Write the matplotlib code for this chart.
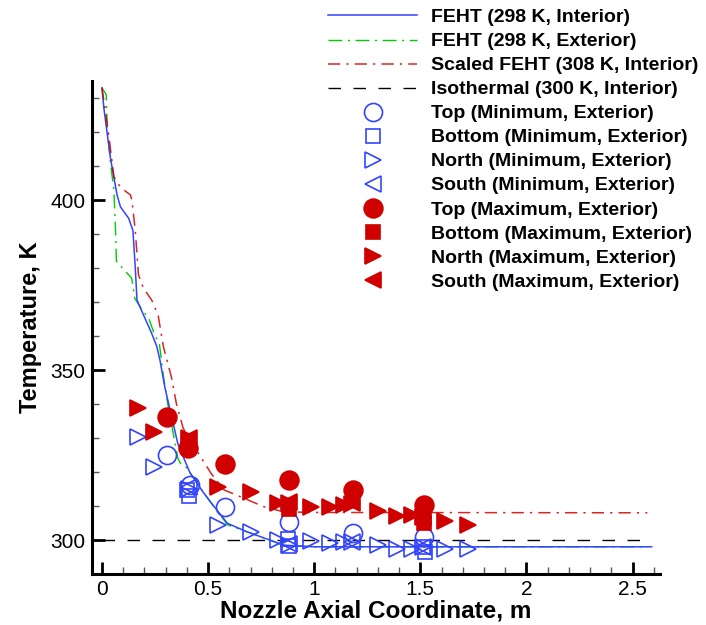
import numpy as np
import matplotlib
matplotlib.use('Agg')
import matplotlib.pyplot as plt
from matplotlib.ticker import MultipleLocator, FixedLocator

plt.rcParams['font.family'] = ['Liberation Sans', 'DejaVu Sans']

# ---- curves ----
feht_int_x = [0, 0.009, 0.04, 0.071, 0.087, 0.126, 0.146, 0.157, 0.165, 0.19, 0.234,
              0.258, 0.273, 0.296, 0.32, 0.358, 0.413, 0.475, 0.529, 0.591, 0.684,
              0.79, 0.855, 1.0, 2.59]
feht_int_y = [433, 427, 412.3, 401.5, 398, 394.6, 391, 380, 370.6, 367, 360.8,
              357, 353, 345, 338.5, 328.2, 320, 314.2, 309.8, 304.9, 302.4,
              300, 298.5, 298, 298]

feht_ext_x = [0, 0.02, 0.025, 0.04, 0.056, 0.064, 0.068, 0.14, 0.155, 0.19, 0.22,
              0.25, 0.27, 0.29, 0.31, 0.358, 0.37, 0.39, 0.45, 0.53, 0.58, 0.59,
              0.684, 0.79, 0.86, 1.0, 2.57]
feht_ext_y = [433, 431, 421, 411, 403, 391, 382, 377, 371, 367.6, 365.3,
              360, 358, 348, 340, 324, 322.5, 322, 316.5, 309.5, 305.5, 304.5,
              302.4, 300, 298.3, 298, 298]

scaled_x = [0, 0.03, 0.056, 0.071, 0.102, 0.134, 0.141, 0.157, 0.172, 0.196, 0.234,
            0.265, 0.289, 0.327, 0.351, 0.382, 0.42, 0.46, 0.514, 0.576, 0.669,
            0.762, 0.855, 1.0, 2.57]
scaled_y = [433, 420, 407, 405, 403, 401.5, 400, 391, 378, 374, 370.6,
            366, 357, 348, 340, 333, 328.5, 325, 319.6, 314.7, 312.3,
            309.8, 308.3, 308.1, 308]

iso_x = [0, 2.57]
iso_y = [300, 300]

# ---- measured points ----
top_min_x = [0.305, 0.415, 0.58, 0.879, 1.185, 1.516]
top_min_y = [325, 316.2, 309.8, 305.4, 302, 301]
bot_min_x = [0.40, 0.41, 0.875, 0.88, 1.515, 1.52]
bot_min_y = [314.7, 312.8, 300.3, 298.2, 297.8, 296.5]
north_min_x = [0.17, 0.245, 0.41, 0.545, 0.70, 0.828, 0.88, 0.985, 1.075, 1.14,
               1.18, 1.30, 1.39, 1.46, 1.515, 1.615, 1.725]
north_min_y = [330.4, 321.6, 315, 304.4, 302.4, 300, 298.5, 299.7, 299, 299.5,
               299.3, 298.5, 297.5, 297.5, 298, 297.4, 297.4]
south_min_x = [0.41, 0.88, 1.18, 1.515]
south_min_y = [315.5, 298.8, 299.5, 298]

top_max_x = [0.305, 0.407, 0.58, 0.879, 1.185, 1.516]
top_max_y = [336.3, 327, 322.3, 317.6, 314.7, 310.3]
bot_max_x = [0.88, 1.516]
bot_max_y = [309, 305]
north_max_x = [0.17, 0.245, 0.41, 0.545, 0.70, 0.828, 0.88, 0.985, 1.075, 1.14,
               1.18, 1.30, 1.39, 1.46, 1.515, 1.615, 1.725]
north_max_y = [338.7, 331.9, 330, 315.7, 314.2, 310.8, 311, 309.6, 309.8, 310.3,
               310.5, 308.5, 307.2, 307.4, 306.9, 305.6, 304.4]
south_max_x = [0.41, 0.88, 1.18, 1.515]
south_max_y = [330, 311.2, 310.8, 306.9]

blue = '#3344ff'
red = '#d00000'
green = '#00cc00'

fig = plt.figure(figsize=(7.06, 6.25), dpi=100)
ax = fig.add_axes([0.1303, 0.0816, 0.8047, 0.7888])

l1, = ax.plot(feht_ext_x, feht_ext_y, color=green, lw=1.0, dashes=(10, 4, 1.5, 4))
l0, = ax.plot(feht_int_x, feht_int_y, color=blue, lw=1.1)
l2, = ax.plot(scaled_x, scaled_y, color=red, lw=1.1, dashes=(8, 4, 1.5, 4), alpha=0.85)
l3, = ax.plot(iso_x, iso_y, color='k', lw=1.0, dashes=(9, 9))

mk = dict(ls='none', markeredgewidth=1.2)
m0, = ax.plot(top_min_x, top_min_y, marker='o', ms=13, mfc='none', mec=blue, **mk)
m1, = ax.plot(bot_min_x, bot_min_y, marker='s', ms=10, mfc='none', mec=blue, **mk)
m2, = ax.plot(north_min_x, north_min_y, marker='>', ms=11, mfc='none', mec=blue, **mk)
m3, = ax.plot(south_min_x, south_min_y, marker='<', ms=11, mfc='none', mec=blue, **mk)
m4, = ax.plot(top_max_x, top_max_y, marker='o', ms=13.5, color=red, **mk)
m5, = ax.plot(bot_max_x, bot_max_y, marker='s', ms=10, color=red, **mk)
m6, = ax.plot(north_max_x, north_max_y, marker='>', ms=11, color=red, **mk)
m7, = ax.plot(south_max_x, south_max_y, marker='<', ms=11, color=red, **mk)

ax.set_xlim(-0.047, 2.63)
ax.set_ylim(290, 435)
ax.spines['top'].set_visible(False)
ax.spines['right'].set_visible(False)
ax.spines['left'].set_linewidth(2.2)
ax.spines['bottom'].set_linewidth(2.2)

ax.xaxis.set_major_locator(FixedLocator([0, 0.5, 1, 1.5, 2, 2.5]))
ax.xaxis.set_minor_locator(MultipleLocator(0.1))
ax.yaxis.set_major_locator(FixedLocator([300, 350, 400]))
ax.yaxis.set_minor_locator(MultipleLocator(10))
ax.set_xticklabels(['0', '0.5', '1', '1.5', '2', '2.5'])
ax.tick_params(which='major', direction='in', length=9, width=2, labelsize=15, pad=4.5)
ax.tick_params(which='minor', direction='in', length=5, width=1, color='#555555')

ax.set_xlabel('Nozzle Axial Coordinate, m', fontsize=17.5, fontweight='bold', labelpad=0)
ax.set_ylabel('Temperature, K', fontsize=17, fontweight='bold', labelpad=6)

handles = [l0, l1, l2, l3, m0, m1, m2, m3, m4, m5, m6, m7]
labels = ['FEHT (298 K, Interior)', 'FEHT (298 K, Exterior)',
          'Scaled FEHT (308 K, Interior)', 'Isothermal (300 K, Interior)',
          'Top (Minimum, Exterior)', 'Bottom (Minimum, Exterior)',
          'North (Minimum, Exterior)', 'South (Minimum, Exterior)',
          'Top (Maximum, Exterior)', 'Bottom (Maximum, Exterior)',
          'North (Maximum, Exterior)', 'South (Maximum, Exterior)']
fig.legend(handles, labels, loc='upper left', bbox_to_anchor=(0.455, 0.997),
           frameon=False, prop={'weight': 'bold', 'size': 14},
           handlelength=4.6, handletextpad=0.7, labelspacing=0.33,
           borderpad=0.35, borderaxespad=0)

fig.savefig('out.png', dpi=100)
